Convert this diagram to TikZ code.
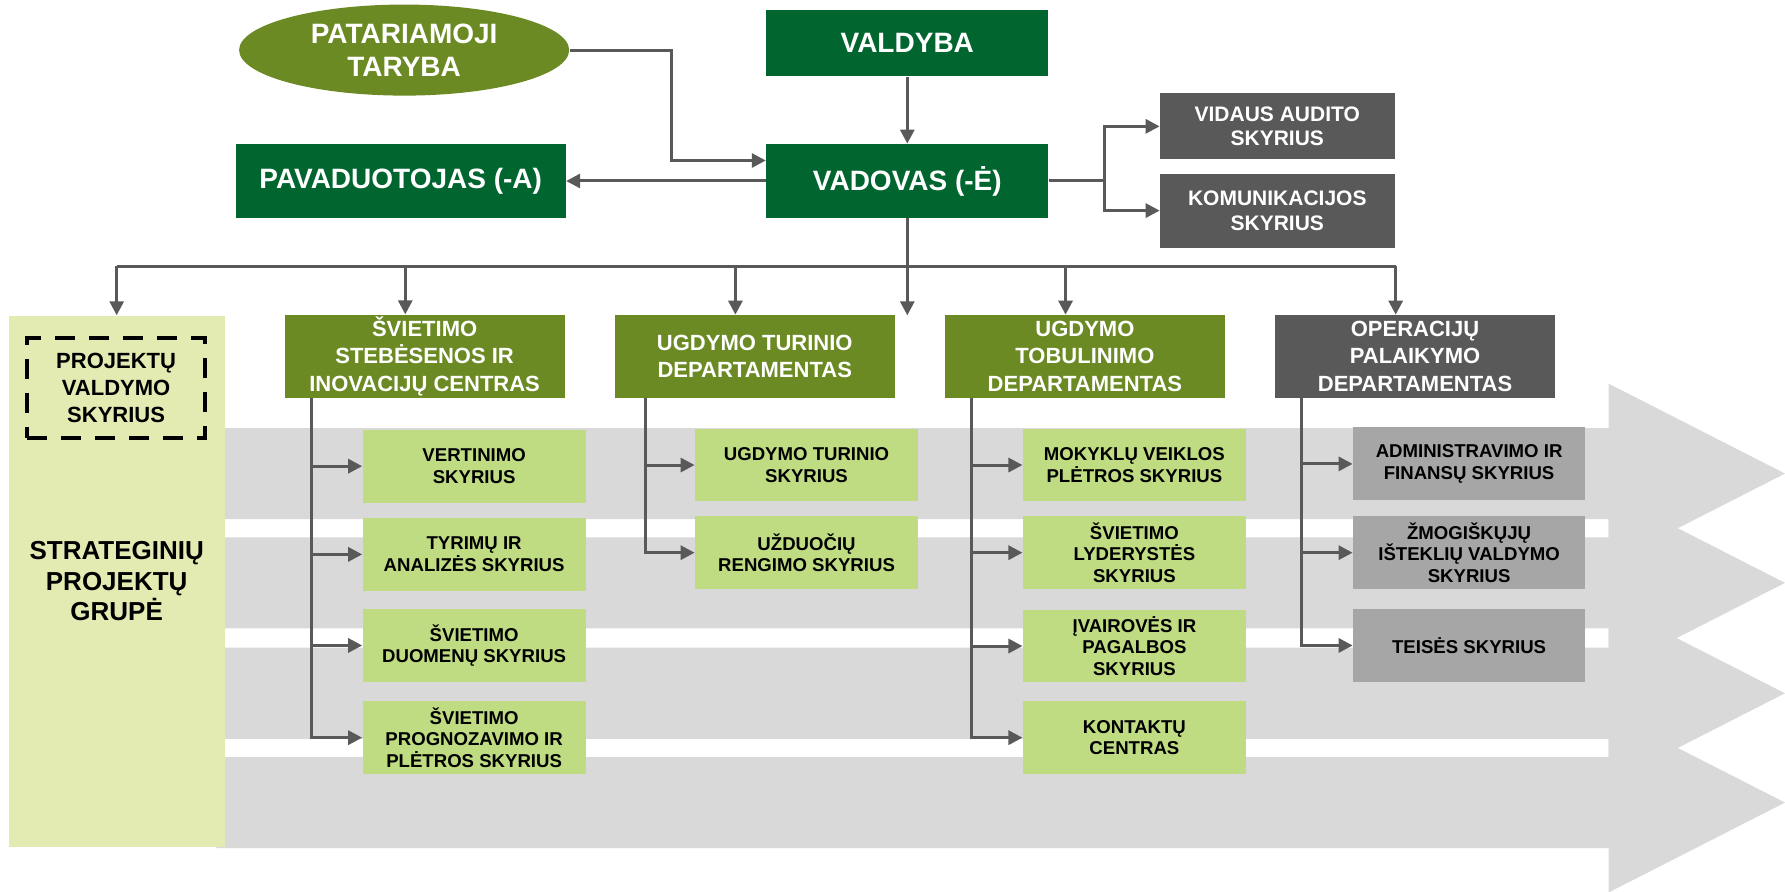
\documentclass[tikz,border=0pt]{standalone}
\usepackage{fontspec}
\setmainfont{Liberation Sans}
\usetikzlibrary{shapes.geometric,arrows.meta}
\definecolor{boardgreen}{HTML}{00652E}
\definecolor{olivegreen}{HTML}{6B8A23}
\definecolor{leafgreen}{HTML}{C0DC82}
\definecolor{palegreen}{HTML}{E4EBB2}
\definecolor{darkgrey}{HTML}{595959}
\definecolor{midgrey}{HTML}{A6A6A6}
\definecolor{bandgrey}{HTML}{D9D9D9}

\begin{document}
\begin{tikzpicture}
[x=0.02cm,y=-0.02cm,
  topbox/.style={shape=rectangle,fill=boardgreen,text=white,inner sep=2pt,align=center,font=\bfseries\fontsize{14}{16.2}\selectfont},
  sidebox/.style={shape=rectangle,fill=darkgrey,text=white,minimum width=4.12cm,inner sep=1pt,align=center,font=\bfseries\fontsize{10.5}{12.2}\selectfont},
  deptbox/.style={shape=rectangle,fill=olivegreen,text=white,minimum width=4.92cm,minimum height=1.45cm,inner sep=1pt,align=center,font=\bfseries\fontsize{11}{13.7}\selectfont},
  unitbox/.style={shape=rectangle,fill=leafgreen,minimum width=3.92cm,minimum height=1.28cm,inner sep=1pt,align=center,font=\bfseries\fontsize{9.3}{10.8}\selectfont},
  opsunit/.style={unitbox,fill=midgrey,minimum width=4.08cm},
  link/.style={draw=darkgrey,line width=1.5pt},
  arrowlink/.style={link,-{Triangle[length=7pt,width=7pt]}},
  band/.style={fill=bandgrey}]
\useasboundingbox (0,0) rectangle (1568,783);
% background arrows
\foreach \c in {416,512,609,705}
  \fill[band] (190,\c-40) -- (1413,\c-40) -- (1413,\c-79) -- (1568,\c)
    -- (1413,\c+79) -- (1413,\c+40) -- (190,\c+40) -- cycle;
% strategic projects group
\node (stratgroup) at (102.5,510.5) [shape=rectangle,fill=palegreen,minimum width=3.79cm,minimum height=9.33cm,align=center,font=\bfseries\fontsize{13}{15.3}\selectfont] {STRATEGINIŲ\\PROJEKTŲ\\GRUPĖ};
\node (projmgmt) at (102,341) [draw,dash pattern=on 10pt off 7pt,line width=2pt,minimum width=3.12cm,minimum height=1.76cm,align=center,font=\bfseries\fontsize{11}{13.5}\selectfont] {PROJEKTŲ\\VALDYMO\\SKYRIUS};
% top level
\node (advisory) at (355,44) [shape=ellipse,fill=olivegreen,text=white,minimum width=5.8cm,minimum height=1.6cm,inner sep=0pt,align=center,font=\bfseries\fontsize{14}{16.2}\selectfont] {PATARIAMOJI\\TARYBA};
\node (board) at (797,38) [topbox,minimum width=4.96cm,minimum height=1.16cm] {VALDYBA};
\node (head) at (797,159) [topbox,minimum width=4.96cm,minimum height=1.3cm] {VADOVAS (-Ė)};
\node (deputy) at (352,159) [topbox,minimum width=5.8cm,minimum height=1.3cm] {PAVADUOTOJAS (-A)};
\node (audit) at (1122,111) [sidebox,minimum height=1.16cm] {VIDAUS AUDITO\\SKYRIUS};
\node (comms) at (1122,185) [sidebox,minimum height=1.3cm] {KOMUNIKACIJOS\\SKYRIUS};
% departments
\node (monitor) at (373,313) [deptbox] {ŠVIETIMO\\STEBĖSENOS IR\\INOVACIJŲ CENTRAS};
\node (content) at (663,313) [deptbox] {UGDYMO TURINIO\\DEPARTAMENTAS};
\node (improve) at (953,313) [deptbox] {UGDYMO\\TOBULINIMO\\DEPARTAMENTAS};
\node (operations) at (1243,313) [deptbox,fill=darkgrey] {OPERACIJŲ\\PALAIKYMO\\DEPARTAMENTAS};
% units
\node (assess) at (416.5,409.5) [unitbox] {VERTINIMO\\SKYRIUS};
\node (research) at (416.5,487) [unitbox] {TYRIMŲ IR\\ANALIZĖS SKYRIUS};
\node (data) at (416.5,567) [unitbox] {ŠVIETIMO\\DUOMENŲ SKYRIUS};
\node (forecast) at (416.5,648) [unitbox] {ŠVIETIMO\\PROGNOZAVIMO IR\\PLĖTROS SKYRIUS};
\node (curric) at (708.5,408.5) [unitbox] {UGDYMO TURINIO\\SKYRIUS};
\node (tasks) at (708.5,485.5) [unitbox] {UŽDUOČIŲ\\RENGIMO SKYRIUS};
\node (schools) at (996.5,408.5) [unitbox] {MOKYKLŲ VEIKLOS\\PLĖTROS SKYRIUS};
\node (leaders) at (996.5,485.5) [unitbox] {ŠVIETIMO\\LYDERYSTĖS\\SKYRIUS};
\node (diversity) at (996.5,567.5) [unitbox] {ĮVAIROVĖS IR\\PAGALBOS\\SKYRIUS};
\node (contact) at (996.5,648) [unitbox] {KONTAKTŲ\\CENTRAS};
\node (finance) at (1290.5,407.5) [opsunit] {ADMINISTRAVIMO IR\\FINANSŲ SKYRIUS};
\node (hr) at (1290.5,485.5) [opsunit] {ŽMOGIŠKŲJŲ\\IŠTEKLIŲ VALDYMO\\SKYRIUS};
\node (legal) at (1290.5,567) [opsunit] {TEISĖS SKYRIUS};
% joints
\coordinate (advjoint) at (590,141);
\coordinate (bus) at (797,234);
\coordinate (gapend) at (797,277);
\coordinate (monitor-in) at ([xshift=-0.34cm]monitor.north);
\coordinate (content-in) at ([xshift=-0.34cm]content.north);
\coordinate (improve-in) at ([xshift=-0.34cm]improve.north);
\coordinate (operations-in) at ([xshift=-0.34cm]operations.north);
% edges
\draw[arrowlink] (advisory.east) -| (advjoint) -- (head.west |- advjoint);
\draw[arrowlink] (board) -- (head);
\draw[arrowlink] (head) -- (deputy);
\draw[arrowlink] (head.east) -- ++(0.98cm,0) |- (audit.west);
\draw[arrowlink] (head.east) -- ++(0.98cm,0) |- (comms.west);
\draw[arrowlink] (head) -- (gapend);
\draw[link] (bus -| stratgroup.north) -- (bus -| operations-in);
\draw[arrowlink] (bus -| stratgroup.north) -- (stratgroup.north);
\foreach \d in {monitor,content,improve,operations}
  \draw[arrowlink] (bus -| \d-in) -- (\d-in);
\foreach \u in {assess,research,data,forecast}
  \draw[arrowlink] ([xshift=0.48cm]monitor.south west) |- (\u.west);
\foreach \u in {curric,tasks}
  \draw[arrowlink] ([xshift=0.55cm]content.south west) |- (\u.west);
\foreach \u in {schools,leaders,diversity,contact}
  \draw[arrowlink] ([xshift=0.48cm]improve.south west) |- (\u.west);
\foreach \u in {finance,hr,legal}
  \draw[arrowlink] ([xshift=0.48cm]operations.south west) |- (\u.west);
\end{tikzpicture}
\end{document}
